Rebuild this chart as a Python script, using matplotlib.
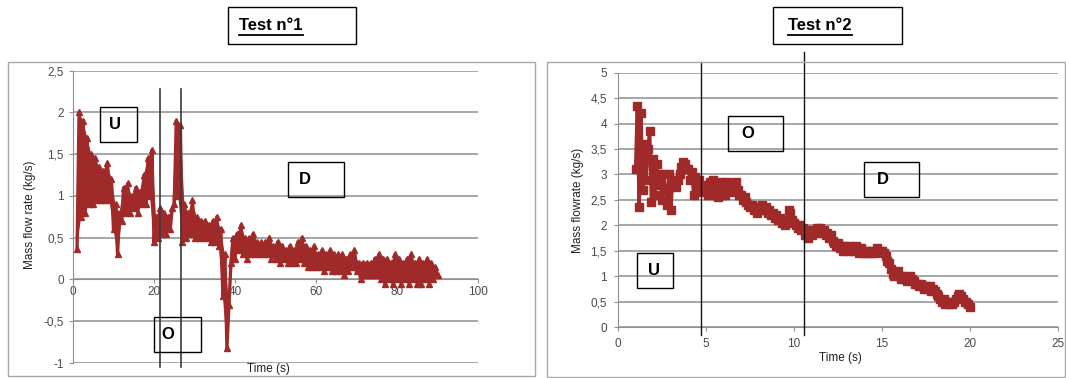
import matplotlib
matplotlib.use("Agg")
import matplotlib.pyplot as plt
import numpy as np
from matplotlib.patches import Rectangle
from matplotlib.lines import Line2D
from matplotlib.ticker import FuncFormatter, MultipleLocator

plt.rcParams['font.family'] = ['Liberation Sans', 'DejaVu Sans']

W, H = 1066, 378

# test 1: mass flow rate (kg/s), sampled every 0.5 s from t = 1 s
# (whole seconds = bottom of the oscillation, half seconds = top)
test1_time = np.arange(1.0, 90.01, 0.5)
test1_flow = [
    0.37, 2.0, 0.75, 1.9, 0.8, 1.7, 0.9, 1.5, 0.9, 1.45,
    0.95, 1.35, 0.95, 1.3, 0.95, 1.4, 0.95, 1.2, 0.6, 0.9,
    0.3, 0.8, 0.7, 1.1, 0.8, 1.15, 0.8, 1.0, 0.85, 1.1,
    0.8, 1.05, 0.9, 1.25, 0.9, 1.45, 1.0, 1.55, 0.45, 0.75,
    0.5, 0.85, 0.55, 0.8, 0.55, 0.75, 0.6, 0.85, 0.9, 1.9,
    1.0, 1.85, 0.45, 0.9, 0.5, 0.8, 0.55, 0.95, 0.5, 0.75,
    0.5, 0.7, 0.5, 0.7, 0.5, 0.65, 0.45, 0.7, 0.45, 0.75,
    0.4, 0.6, -0.2, 0.3, -0.82, -0.3, 0.2, 0.5, 0.25, 0.55,
    0.35, 0.65, 0.3, 0.5, 0.25, 0.5, 0.3, 0.55, 0.3, 0.45,
    0.3, 0.45, 0.3, 0.45, 0.3, 0.5, 0.25, 0.4, 0.25, 0.45,
    0.2, 0.4, 0.25, 0.35, 0.2, 0.4, 0.2, 0.35, 0.2, 0.45,
    0.25, 0.5, 0.2, 0.4, 0.15, 0.35, 0.15, 0.4, 0.15, 0.3,
    0.15, 0.35, 0.1, 0.3, 0.15, 0.35, 0.1, 0.3, 0.1, 0.3,
    0.1, 0.3, 0.05, 0.25, 0.1, 0.3, 0.15, 0.35, 0.1, 0.2,
    0.0, 0.2, 0.05, 0.2, 0.05, 0.2, 0.05, 0.25, 0.05, 0.3,
    0.0, 0.25, -0.05, 0.25, 0.0, 0.2, -0.05, 0.3, 0.0, 0.25,
    -0.05, 0.2, 0.0, 0.25, -0.05, 0.3, 0.0, 0.2, -0.05, 0.25,
    -0.05, 0.2, 0.0, 0.25, -0.05, 0.2, 0.0, 0.15, 0.05,
]

# test 2: mass flowrate (kg/s), sampled every 0.1 s from t = 1 s
test2_time = np.arange(1.0, 20.001, 0.1)
test2_flow = [
    3.1, 4.35, 2.35, 4.2, 2.7, 3.6, 2.9, 3.5, 3.85, 2.45,
    3.3, 2.6, 3.2, 2.8, 3.0, 2.5, 3.0, 2.7, 2.4, 3.0,
    2.3, 2.9, 2.8, 2.75, 2.9, 3.0, 3.15, 3.25, 3.2, 3.1,
    3.1, 2.9, 3.05, 2.6, 2.95, 2.75, 2.9, 2.65, 2.8, 2.7,
    2.75, 2.6, 2.85, 2.65, 2.9, 2.6, 2.8, 2.55, 2.85, 2.6,
    2.75, 2.6, 2.85, 2.7, 2.65, 2.8, 2.75, 2.85, 2.7, 2.6,
    2.6, 2.5, 2.55, 2.45, 2.4, 2.35, 2.4, 2.3, 2.35, 2.25,
    2.35, 2.3, 2.4, 2.3, 2.35, 2.25, 2.3, 2.2, 2.25, 2.15,
    2.2, 2.1, 2.15, 2.05, 2.1, 2.0, 2.1, 2.3, 2.25, 2.1,
    2.05, 2.0, 1.95, 2.0, 1.9, 1.95, 1.8, 1.9, 1.75, 1.85,
    1.8, 1.9, 1.85, 1.95, 1.9, 1.95, 1.85, 1.9, 1.8, 1.85,
    1.75, 1.8, 1.7, 1.65, 1.6, 1.65, 1.55, 1.6, 1.5, 1.6,
    1.55, 1.5, 1.6, 1.55, 1.5, 1.6, 1.55, 1.45, 1.55, 1.5,
    1.45, 1.5, 1.45, 1.5, 1.45, 1.5, 1.45, 1.55, 1.5, 1.5,
    1.5, 1.45, 1.4, 1.3, 1.25, 1.15, 1.05, 1.0, 1.05, 1.1,
    1.0, 0.95, 1.0, 0.95, 0.9, 0.95, 1.0, 0.95, 0.9, 0.85,
    0.85, 0.8, 0.85, 0.8, 0.75, 0.8, 0.75, 0.8, 0.7, 0.75,
    0.7, 0.65, 0.6, 0.55, 0.5, 0.55, 0.45, 0.5, 0.45, 0.5,
    0.45, 0.5, 0.55, 0.6, 0.65, 0.6, 0.55, 0.5, 0.5, 0.45,
    0.4,
]

test1_phase_lines = [21.5, 26.6]
test2_phase_lines = [4.7, 10.55]

red = '#a02a29'
grid_col = '#8e8e8e'
tick_col = '#4a4a4a'


def fx(x):
    return x / W


def fy(y):
    return 1 - y / H


def fig_box(fig, x0, y0, x1, y1, color='black', lw=1.0):
    fig.add_artist(Rectangle((fx(x0), fy(y1)), fx(x1) - fx(x0), fy(y0) - fy(y1),
                             transform=fig.transFigure, fill=False,
                             edgecolor=color, lw=lw))


def letter_box(fig, x0, y0, x1, y1, letter, tx):
    fig_box(fig, x0, y0, x1, y1)
    fig.text(fx(tx), fy((y0 + y1) / 2), letter, fontsize=12, fontweight='bold',
             ha='center', va='center')


def comma(v, p):
    return f"{v:g}".replace('.', ',')


def style_axes(ax):
    for s in ['top', 'right']:
        ax.spines[s].set_visible(False)
    ax.spines['left'].set_color(grid_col)
    ax.spines['bottom'].set_color(grid_col)
    ax.spines['bottom'].set_position(('data', 0))
    ax.yaxis.grid(True, color=grid_col, lw=1.1)
    ax.set_axisbelow(True)
    ax.tick_params(colors=grid_col, labelcolor=tick_col, labelsize=8.5,
                   length=3, width=0.8)
    ax.yaxis.set_major_formatter(FuncFormatter(comma))
    ax.set_facecolor('none')


fig = plt.figure(figsize=(W / 100, H / 100), dpi=100)

# chart area frames
fig_box(fig, 8, 62, 535, 376, color='#a8a8a8')
fig_box(fig, 547, 62, 1065, 377, color='#a8a8a8')

# ---- Test 1 ----
ax1 = fig.add_axes([fx(73), fy(363), fx(478) - fx(73), fy(70.7) - fy(363)])
style_axes(ax1)
ax1.set_xlim(0, 100)
ax1.set_ylim(-1, 2.5)
ax1.xaxis.set_major_locator(MultipleLocator(20))
ax1.yaxis.set_major_locator(MultipleLocator(0.5))
ax1.tick_params(axis='x', pad=2)
t1 = np.asarray(test1_time)
f1 = np.asarray(test1_flow)
# the dense oscillation reads as a solid band between lows and highs
ax1.fill(np.r_[t1[1::2], t1[0::2][::-1]], np.r_[f1[1::2], f1[0::2][::-1]],
         color=red, lw=0, zorder=3)
ax1.plot(t1, f1, color=red, lw=2.4, marker='^', ms=4, zorder=3)
for x in test1_phase_lines:
    ax1.plot([x, x], [2.28, -1.05], color='#3a3a3a', lw=1.2, clip_on=False,
             zorder=4)
fig.text(fx(30), fy(215), 'Mass flow rate (kg/s)', rotation=90, fontsize=8.5,
         ha='center', va='center', color='#222222')
fig.text(fx(268), fy(369), 'Time (s)', fontsize=8.5, ha='center', va='center',
         color='#222222')

# ---- Test 2 ----
ax2 = fig.add_axes([fx(618), fy(327), fx(1058) - fx(618), fy(72.7) - fy(327)])
style_axes(ax2)
ax2.set_xlim(0, 25)
ax2.set_ylim(0, 5)
ax2.xaxis.set_major_locator(MultipleLocator(5))
ax2.yaxis.set_major_locator(MultipleLocator(0.5))
ax2.tick_params(axis='x', pad=5)
ax2.tick_params(axis='y', pad=5)
ax2.plot(test2_time, test2_flow, color=red, lw=2.5, marker='s', ms=6,
         linestyle='-', zorder=3)
ax2.plot([test2_phase_lines[0]] * 2, [5.21, -0.15], color='#111111', lw=1.0,
         clip_on=False, zorder=4)
ax2.plot([test2_phase_lines[1]] * 2, [5.41, -0.15], color='#111111', lw=1.0,
         clip_on=False, zorder=4)
fig.text(fx(578), fy(200), 'Mass flowrate (kg/s)', rotation=90, fontsize=8.5,
         ha='center', va='center', color='#222222')
fig.text(fx(840), fy(358), 'Time (s)', fontsize=8.5, ha='center', va='center',
         color='#222222')

# titles
fig_box(fig, 228, 7, 356, 44)
fig_box(fig, 773, 7, 902, 44)
titles = []
titles.append(fig.text(fx(239), fy(26), 'Test n°1', fontsize=12,
                       fontweight='bold', ha='left', va='center'))
titles.append(fig.text(fx(788), fy(26), 'Test n°2', fontsize=12,
                       fontweight='bold', ha='left', va='center'))

# phase labels
letter_box(fig, 100, 107, 137, 142, 'U', 115)
letter_box(fig, 154, 317, 201, 352, 'O', 168)
letter_box(fig, 288, 162, 344, 197, 'D', 305)
letter_box(fig, 637, 253, 673, 288, 'U', 654)
letter_box(fig, 728, 116, 783, 151, 'O', 748)
letter_box(fig, 864, 162, 919, 197, 'D', 883)

# underline the titles
fig.canvas.draw()
renderer = fig.canvas.get_renderer()
for t in titles:
    bb = t.get_window_extent(renderer)
    yline = bb.y0 - 1
    fig.add_artist(Line2D([bb.x0 / W, bb.x1 / W], [yline / H, yline / H],
                          transform=fig.transFigure, color='black', lw=1.3))

fig.savefig('out.png', dpi=100)
